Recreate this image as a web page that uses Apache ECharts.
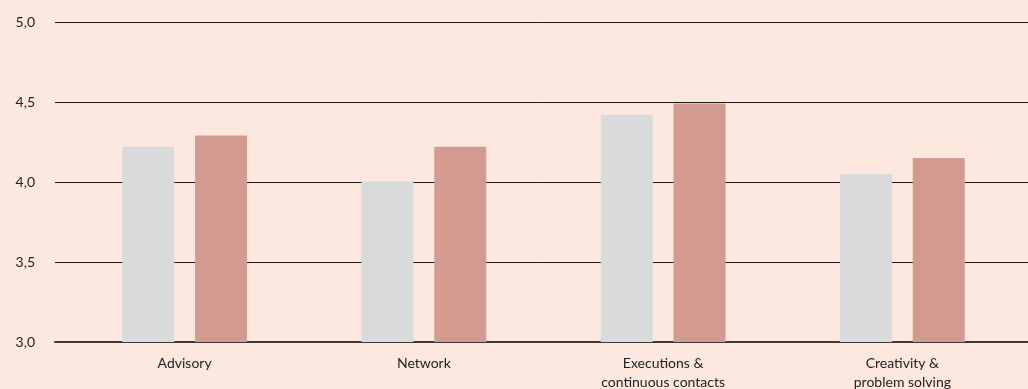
<!DOCTYPE html>
<html>
<head>
<meta charset="utf-8">
<script src="https://cdn.jsdelivr.net/npm/echarts@6/dist/echarts.min.js"></script>
<style>
  html, body { margin: 0; padding: 0; background: #fde8df; }
  #chart { width: 1028px; height: 389px; }
</style>
</head>
<body>
<div id="chart"></div>
<script>
var categories = ["Advisory", "Network", "Executions &\ncontinuous contacts", "Creativity &\nproblem solving"];
var greyValues = [4.22, 4.005, 4.42, 4.05];
var pinkValues = [4.29, 4.22, 4.49, 4.15];
var yMin = 3, yMax = 5, yStep = 0.5;

var chart = echarts.init(document.getElementById("chart"));
var font = "Lato, 'Open Sans', sans-serif";

chart.setOption({
  backgroundColor: "#fde8df",
  animation: false,
  grid: [
    // grid 0 only carries the long horizontal rules and the tick labels
    { left: 55, right: 0, top: 22, bottom: 47, outerBoundsMode: "none" },
    // grid 1 holds the bars
    { left: 65, right: 6, top: 22, bottom: 47, outerBoundsMode: "none" }
  ],
  xAxis: [
    {
      gridIndex: 0,
      type: "category",
      data: [""],
      axisLine: { show: true, lineStyle: { color: "#3a3a3a", width: 2 } },
      axisTick: { show: false },
      axisLabel: { show: false }
    },
    {
      gridIndex: 1,
      type: "category",
      data: categories,
      axisLine: { show: false },
      axisTick: { show: false },
      axisLabel: {
        interval: 0,
        color: "#222",
        fontFamily: font,
        fontSize: 14,
        lineHeight: 19,
        margin: 12
      }
    }
  ],
  yAxis: [
    {
      gridIndex: 0,
      type: "value",
      min: yMin,
      max: yMax,
      interval: yStep,
      axisLine: { show: false },
      axisTick: { show: false },
      axisLabel: {
        color: "#222",
        fontFamily: font,
        fontSize: 14,
        margin: 20,
        formatter: function (v) {
          return v.toFixed(1).replace(".", ",");
        }
      },
      splitLine: { lineStyle: { color: "#1a1a1a", width: 1 } }
    },
    {
      gridIndex: 1,
      type: "value",
      min: yMin,
      max: yMax,
      interval: yStep,
      show: false
    }
  ],
  series: [
    {
      name: "grey",
      type: "bar",
      xAxisIndex: 1,
      yAxisIndex: 1,
      barWidth: 52,
      barGap: "40%",
      itemStyle: { color: "#d9dadb" },
      data: greyValues
    },
    {
      name: "pink",
      type: "bar",
      xAxisIndex: 1,
      yAxisIndex: 1,
      barWidth: 52,
      barGap: "40%",
      itemStyle: { color: "#d39a90" },
      data: pinkValues
    }
  ]
});
</script>
</body>
</html>
